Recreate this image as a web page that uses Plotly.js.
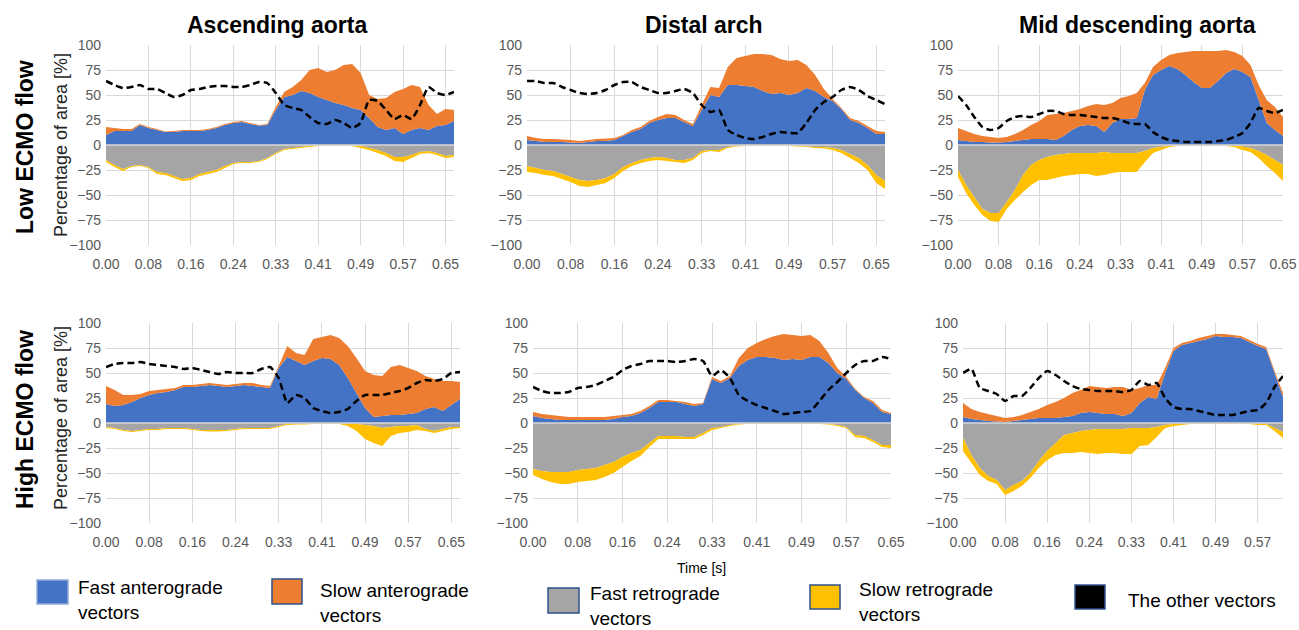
<!DOCTYPE html>
<html><head><meta charset="utf-8">
<script src="https://cdn.plot.ly/plotly-3.0.1.min.js"></script>
<style>html,body{margin:0;padding:0;background:#fff}#chart{width:1299px;height:630px}</style>
</head><body><div id="chart"></div>
<script>
// Time samples [s]
const TIME = [0,0.0163,0.0326,0.0489,0.0652,0.0815,0.0978,0.1141,0.1304,0.1467,0.163,0.1793,0.1956,0.2119,0.2282,0.2445,0.2608,0.2771,0.2934,0.3097,0.326,0.3423,0.3586,0.3749,0.3912,0.4075,0.4238,0.4401,0.4564,0.4727,0.489,0.5053,0.5216,0.5379,0.5542,0.5705,0.5868,0.6031,0.6194,0.6357,0.652,0.6683];
const X_TICK_VALS = [0,0.0815,0.163,0.2445,0.326,0.4075,0.489,0.5705,0.652];
const X_TICK_TEXT = ["0.00","0.08","0.16","0.24","0.33","0.41","0.49","0.57","0.65"];
const Y_TICK_VALS = [-100,-75,-50,-25,0,25,50,75,100];

const PANEL_TITLES = ["Ascending aorta","Distal arch","Mid descending aorta"];
const ROW_TITLES = ["Low ECMO flow","High ECMO flow"];
const SERIES_NAMES = ["Fast anterograde vectors","Slow anterograde vectors","Fast retrograde vectors","Slow retrograde vectors","The other vectors"];

// Low ECMO flow – Ascending aorta
const LOW_ASC_FAST_ANT = [10,14,14,14,20,17,15,13,13,14,14,14,15,17,20,22,23,21,19.5,20,35,48,50,54,52,48,45,42,40,37,35,27,18,15,17,11,15,17,15,19,20,24];
const LOW_ASC_SLOW_ANT = [8,3,2,2,1,1,1,0.5,1,1,1,1,1,1,1,1,1,1,0.5,1,3,5,8,11,23,29,28,33,40,44,37,23,28,32,36,45,45,41,25,12,16,11];
const LOW_ASC_FAST_RET = [-15,-20,-24,-21,-20,-22,-27,-28,-31,-34,-33,-29,-27,-25,-21,-18,-17,-17,-16,-13,-8,-4,-3,-2,-1,-0.5,-0.5,-0.5,-0.5,-0.5,-1,-3,-5,-8,-12,-12,-10,-7,-6,-8,-11,-10];
const LOW_ASC_SLOW_RET = [-2,-2,-2,-1,-1,-1,-2,-2,-2,-2,-2,-2,-2,-2,-2,-1,-1,-1,-1,-1,-1,-1,-1,-1,-1,-0.5,-0.5,-0.5,-0.5,-0.5,-2,-2,-3,-3,-4,-5,-3,-2,-2,-2,-2,-2];
const LOW_ASC_OTHER = [64,60,57,58,60,56,56,52,48,50,55,56,58,59,59,58,58,60,63,62,52,40,37,35,28,22,21,25,22,17,22,45,44,35,26,30,26,40,58,52,50,53];

// Low ECMO flow – Distal arch
const LOW_ARCH_FAST_ANT = [5,4,3,3,3,2.5,2,3,4,4,5,9,13,16,22,25,27,27,23,19,35,50,48,60,60,59,58,54,51,52,50,52,57,54,48,44,36,25,22,17,11,11];
const LOW_ARCH_SLOW_ANT = [4,3,3,3,2.5,2.5,2,2,2,2.5,2,1,2,2,2,3,4,3,2,2,5,8,9,18,27,30,33,37,39,34,34,33,23,16,8,2,1,2,2,2,3,2];
const LOW_ARCH_FAST_RET = [-21,-23,-25,-26,-29,-32,-35,-36,-35,-33,-29,-22,-18,-15,-13,-12,-13,-15,-15,-13,-6,-5,-5,-2,-1,-0.5,-0.5,-0.5,-0.5,-0.5,-0.5,-1,-1.5,-2,-2,-3,-5,-9,-13,-20,-30,-36];
const LOW_ARCH_SLOW_RET = [-6,-5,-5,-5,-5,-5,-6,-6,-5,-5,-4,-4,-3,-3,-3,-3,-3,-2,-3,-2,-2,-1,-2,-1,-0.5,-0.5,-0.5,-0.5,-0.5,-0.5,-0.5,-0.5,-0.5,-1,-1.5,-2,-3,-4,-5,-5,-8,-8];
const LOW_ARCH_OTHER = [64,64,62,62,58,55,52,51,52,55,60,63,63,58,55,52,52,54,56,52,40,33,35,15,10,7,6,8,11,13,12,12,22,35,43,48,55,58,55,49,45,41];

// Low ECMO flow – Mid descending aorta
const LOW_DESC_FAST_ANT = [5,4,3,3,2.5,2.5,3,4,5,6,6,6,5,9,15,19,20,19,13,22,26,26,27,55,70,75,79,76,70,63,57,57,64,72,76,73,68,45,22,15,9];
const LOW_DESC_SLOW_ANT = [12,10,8,6,5.5,4.5,5,7,10,14,18,24,26,23,19,17,19,22,27,20,21,23,25,7,8,10,11,16,23,31,37,37,30,23,17,16,12,15,23,23,19];
const LOW_DESC_FAST_RET = [-25,-40,-52,-64,-68,-68,-57,-45,-30,-20,-15,-12,-10,-9,-8,-8,-8,-8,-7,-8,-8,-8,-8,-6,-3,-2,-1,-0.5,-0.5,-0.5,-0.5,-0.5,-0.5,-0.5,-1,-1.5,-3,-6,-10,-15,-20];
const LOW_DESC_SLOW_RET = [-7,-8,-8,-6,-8,-9,-7,-10,-17,-20,-20,-23,-23,-22,-22,-21,-21,-23,-23,-20,-19,-19,-19,-11,-5,-3,-1,-0.5,-0.5,-0.5,-0.5,-0.5,-0.5,-0.5,-1,-3.5,-4,-7,-11,-13,-16];
const LOW_DESC_OTHER = [49,40,28,18,15,17,24,28,29,28,31,34,34,31,30,30,29,28,27,27,25,22,21,21,13,8,5,4,3,3,3,3,4,5,8,12,22,37,34,32,35];

// High ECMO flow – Ascending aorta
const HIGH_ASC_FAST_ANT = [19,17,18,21,25,28,30,31,33,36,36,37,38,37,36,37,38,37,36,35,55,66,62,58,62,65,64,58,45,30,15,6,7,8,8,9,10,14,16,12,18,24];
const HIGH_ASC_SLOW_ANT = [18,16,10,7,4,4,3,3,2,2,2,2,2,2,2,2,2,3,2,2,2,11,8,10,22,21,24,27,32,35,37,42,40,48,50,46,42,33,28,30,24,17];
const HIGH_ASC_FAST_RET = [-4,-5,-7,-8,-7,-6,-6,-5,-5,-5,-6,-7,-7,-7,-7,-6,-5,-5,-5,-5,-3,-1,-1,-1,-0.5,-0.5,-0.5,-0.5,-1,-1,-2,-3,-5,-4,-3,-3,-2,-6,-8,-6,-4,-4];
const HIGH_ASC_SLOW_RET = [-1,-1,-1,-1,-1,-1,-1,-1,-1,-1,-1,-1,-1.5,-1.5,-1,-1,-1,-1,-1,-1,-1,-1,-0.5,-0.5,-0.5,-0.5,-0.5,-0.5,-2,-7,-14,-17,-18,-9,-7,-6,-5,-2,-2,-2,-2,-1];
const HIGH_ASC_OTHER = [56,59,60,60,61,59,58,57,56,54,55,53,51,49,51,50,50,50,54,56,45,20,28,25,15,12,10,11,14,22,28,28,28,30,32,35,40,43,42,44,50,51];

// High ECMO flow – Distal arch
const HIGH_ARCH_FAST_ANT = [7,5,4,3,3,3,3,3,3,4,6,7,10,15,21,21,21,19,17,19,44,40,45,57,63,66,66,65,63,64,63,66,66,60,50,44,33,25,20,11,9];
const HIGH_ARCH_SLOW_ANT = [4,4,4,4,3,3,3,3,3,3,2,2,2,2,2,2,1,2,2,1,2,2,2,8,12,14,18,22,26,24,24,22,16,10,5,2,1,1,2,2,1];
const HIGH_ARCH_FAST_RET = [-46,-48,-49,-49,-49,-47,-46,-45,-42,-39,-34,-30,-27,-20,-13,-13,-13,-14,-14,-10,-5,-4,-2,-1,-0.5,-0.5,-0.5,-0.5,-0.5,-0.5,-0.5,-0.5,-0.5,-1,-2,-4,-12,-13,-17,-22,-22];
const HIGH_ARCH_SLOW_RET = [-6,-8,-10,-12,-12,-12,-12,-12,-12,-11,-10,-8,-6,-4,-3,-3,-3,-2,-2,-2,-2,-1,-1,-0.5,-0.5,-0.5,-0.5,-0.5,-0.5,-0.5,-0.5,-0.5,-0.5,-0.5,-1,-1,-2,-2,-2,-2,-3];
const HIGH_ARCH_OTHER = [36,32,30,30,31,35,36,38,42,46,53,57,59,62,62,62,61,62,64,62,47,53,45,28,22,18,15,12,9,10,11,12,22,33,41,50,58,62,62,66,64];

// High ECMO flow – Mid descending aorta
const HIGH_DESC_FAST_ANT = [6,4,3,2,1.5,1,2,3,4,5,5,5,6,7,10,11,10,9,9,7,10,20,26,24,50,72,78,80,82,84,87,86,86,85,81,77,74,50,26];
const HIGH_DESC_SLOW_ANT = [14,10,8,7,5.5,4,4,5,7,9,13,16,19,23,23,26,26,26,27,29,23,15,12,14,5,3,2,2,3,3,2,3,2,2,2,2,2,2,4];
const HIGH_DESC_FAST_RET = [-15,-32,-45,-53,-57,-67,-62,-58,-50,-38,-28,-20,-12,-10,-8,-7,-6,-6,-6,-6,-5,-5,-5,-4,-2,-1,-1,-0.5,-0.5,-0.5,-0.5,-0.5,-0.5,-0.5,-0.5,-1,-1,-5,-9];
const HIGH_DESC_SLOW_RET = [-13,-8,-7,-5,-4,-5,-6,-5,-5,-7,-9,-12,-18,-20,-21,-23,-25,-24,-24,-25,-26,-18,-17,-10,-3,-2,-1,-0.5,-0.5,-0.5,-0.5,-0.5,-0.5,-0.5,-0.5,-1,-1,-3,-6];
const HIGH_DESC_OTHER = [50,54,35,32,29,22,27,27,35,45,52,48,42,37,34,33,32,32,32,31,33,42,38,40,25,16,14,14,12,10,8,8,8,10,12,13,20,36,47];

const COLORS = ["#4472C4","#ED7D31","#A5A5A5","#FFC000","#000000"];

const PANELS = [
  {series:[LOW_ASC_FAST_ANT,LOW_ASC_SLOW_ANT,LOW_ASC_FAST_RET,LOW_ASC_SLOW_RET,LOW_ASC_OTHER], xd:[106,454], row:0},
  {series:[LOW_ARCH_FAST_ANT,LOW_ARCH_SLOW_ANT,LOW_ARCH_FAST_RET,LOW_ARCH_SLOW_RET,LOW_ARCH_OTHER], xd:[527,885], row:0},
  {series:[LOW_DESC_FAST_ANT,LOW_DESC_SLOW_ANT,LOW_DESC_FAST_RET,LOW_DESC_SLOW_RET,LOW_DESC_OTHER], xd:[958,1283], row:0},
  {series:[HIGH_ASC_FAST_ANT,HIGH_ASC_SLOW_ANT,HIGH_ASC_FAST_RET,HIGH_ASC_SLOW_RET,HIGH_ASC_OTHER], xd:[106,460], row:1},
  {series:[HIGH_ARCH_FAST_ANT,HIGH_ARCH_SLOW_ANT,HIGH_ARCH_FAST_RET,HIGH_ARCH_SLOW_RET,HIGH_ARCH_OTHER], xd:[533,891], row:1},
  {series:[HIGH_DESC_FAST_ANT,HIGH_DESC_SLOW_ANT,HIGH_DESC_FAST_RET,HIGH_DESC_SLOW_RET,HIGH_DESC_OTHER], xd:[963,1283], row:1}
];
const ROW_Y = [[45,245],[323,523]];

const W = 1299, H = 630;
const FONT = "Liberation Sans, Arial, sans-serif";
const traces = [];
const layout = {
  width: W, height: H, margin:{l:0,r:0,t:0,b:0},
  paper_bgcolor:"#fff", plot_bgcolor:"rgba(0,0,0,0)",
  showlegend:false, font:{family:FONT, color:"#595959"},
  annotations:[], shapes:[]
};

PANELS.forEach((p, k) => {
  const id = k === 0 ? "" : String(k+1);
  const xa = "x"+id, ya = "y"+id;
  const n = p.series[0].length;
  const t = TIME.slice(0, n);
  const yr = ROW_Y[p.row];
  for (let s = 0; s < 4; s++) {
    traces.push({
      type:"scatter", mode:"none", x:t, y:p.series[s],
      stackgroup:(s < 2 ? "pos" : "neg")+k, fillcolor:COLORS[s],
      name:SERIES_NAMES[s], xaxis:xa, yaxis:ya, hoverinfo:"skip"
    });
  }
  traces.push({
    type:"scatter", mode:"lines", x:t, y:p.series[4], name:SERIES_NAMES[4],
    line:{color:"#000", width:2.5, dash:"7px,4px", shape:"spline", smoothing:0.5},
    xaxis:xa, yaxis:ya, hoverinfo:"skip"
  });
  layout["xaxis"+id] = {
    domain:[p.xd[0]/W, p.xd[1]/W], range:[0, t[n-1]], anchor:ya,
    tickvals:X_TICK_VALS, ticktext:X_TICK_TEXT, ticks:"", ticklabelstandoff:9,
    showgrid:true, gridcolor:"#d9d9d9", gridwidth:1, zeroline:false, showline:false,
    tickfont:{size:14, color:"#595959", family:FONT}, fixedrange:true
  };
  layout["yaxis"+id] = {
    domain:[1-yr[1]/H, 1-yr[0]/H], range:[-100,100], anchor:xa,
    tickvals:Y_TICK_VALS, ticks:"", ticklabelstandoff:4, showgrid:true, gridcolor:"#d9d9d9", gridwidth:1,
    zeroline:false, showline:false, tickfont:{size:14, color:"#595959", family:FONT}, fixedrange:true
  };
  layout.shapes.push({type:"line", xref:xa+" domain", yref:ya, x0:0, x1:1, y0:0, y1:0,
    line:{color:"#d9d9d9", width:1.5}, layer:"above"});
});

// Column titles
const TITLE_X = [277, 704, 1137];
PANEL_TITLES.forEach((txt, i) => layout.annotations.push({
  text:"<b>"+txt+"</b>", xref:"paper", yref:"paper", x:TITLE_X[i]/W, y:1-25/H,
  xanchor:"center", yanchor:"middle", showarrow:false, font:{size:23, color:"#000", family:FONT}
}));
// Row titles
[147, 420].forEach((yy, i) => {
  layout.annotations.push({
    text:"<b>"+ROW_TITLES[i]+"</b>", xref:"paper", yref:"paper", x:25/W, y:1-yy/H,
    xanchor:"center", yanchor:"middle", textangle:-90, showarrow:false,
    font:{size:23, color:"#000", family:FONT}
  });
  layout.annotations.push({
    text:"Percentage of area [%]", xref:"paper", yref:"paper", x:61/W, y:1-(yy-2)/H,
    xanchor:"center", yanchor:"middle", textangle:-90, showarrow:false,
    font:{size:18, color:"#262626", family:FONT}
  });
});
// X axis title
layout.annotations.push({
  text:"Time [s]", xref:"paper", yref:"paper", x:701/W, y:1-568/H,
  xanchor:"center", yanchor:"middle", showarrow:false, font:{size:14, color:"#000", family:FONT}
});

// Custom legend
const LEGEND_ITEMS = [
  {sq:[37,580,68,604], tx:76, ty:600, text:"Fast anterograde<br>vectors", border:"#8FAADC"},
  {sq:[272,579,302,604], tx:318, ty:603, text:"Slow anterograde<br>vectors", border:"#2F528F"},
  {sq:[548,588,579,613], tx:588, ty:606, text:"Fast retrograde<br>vectors", border:"#2F528F"},
  {sq:[810,585,840,609], tx:857, ty:602, text:"Slow retrograde<br>vectors", border:"#2F528F"},
  {sq:[1075,585,1105,609], tx:1126, ty:600, text:"The other vectors", border:"#2F528F"}
];
LEGEND_ITEMS.forEach((it, i) => {
  layout.shapes.push({type:"rect", xref:"paper", yref:"paper",
    x0:it.sq[0]/W, x1:it.sq[2]/W, y0:1-it.sq[3]/H, y1:1-it.sq[1]/H,
    fillcolor:COLORS[i], line:{color:it.border, width:1.5}});
  layout.annotations.push({text:it.text, xref:"paper", yref:"paper", x:it.tx/W, y:1-it.ty/H,
    xanchor:"left", yanchor:"middle", align:"left", showarrow:false,
    font:{size:19, color:"#000", family:FONT}});
});

Plotly.newPlot("chart", traces, layout, {staticPlot:true, displayModeBar:false});
</script></body></html>
